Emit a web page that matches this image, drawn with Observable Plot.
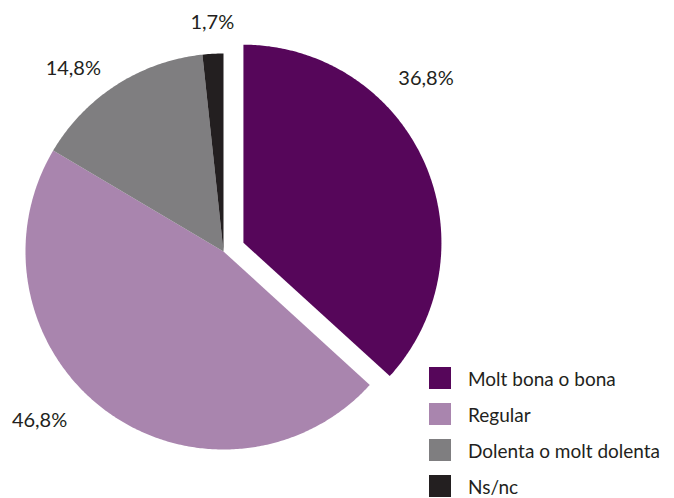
<!DOCTYPE html>
<html>
<head>
<meta charset="utf-8">
<script src="https://cdn.jsdelivr.net/npm/d3@7"></script>
<script src="https://cdn.jsdelivr.net/npm/@observablehq/plot@0.6"></script>
<style>
  body { margin: 0; background: #fff; font-family: Lato, "Open Sans", sans-serif; }
  #wrap { position: relative; width: 674px; height: 498px; }
  #legend { position: absolute; left: 429px; top: 360px; color: #231f20; font-size: 19px; }
  .item { display: flex; align-items: center; height: 36px; }
  .sw { width: 22px; height: 22px; margin-right: 17px; }
</style>
</head>
<body>
<div id="wrap"></div>
<script>
const categories = ["Molt bona o bona", "Regular", "Dolenta o molt dolenta", "Ns/nc"];
const values = [36.8, 46.8, 14.8, 1.7];
const labels = ["36,8%", "46,8%", "14,8%", "1,7%"];
const colors = ["#56065a", "#a985ae", "#7f7e80", "#231f20"];

// layout (not data)
const explode = [0.11, 0, 0, 0];
const labelPolar = [[49.5, 1.345], [227.4, 1.262], [320.6, 1.195], [357.2, 1.158]]; // degrees clockwise from top, radius in units

const arcs = d3.pie().sort(null).value(d => d)(values);
const slices = [];
arcs.forEach((a, i) => {
  const mid = (a.startAngle + a.endAngle) / 2;
  const ox = explode[i] * Math.sin(mid), oy = explode[i] * Math.cos(mid);
  const n = Math.max(2, Math.ceil((a.endAngle - a.startAngle) / 0.01));
  const pts = [{x: ox, y: oy}];
  for (let k = 0; k <= n; k++) {
    const t = a.startAngle + (a.endAngle - a.startAngle) * k / n;
    pts.push({x: ox + Math.sin(t), y: oy + Math.cos(t)});
  }
  pts.push({x: ox, y: oy});
  slices.push({pts, color: colors[i]});
});
const labelData = labels.map((l, i) => {
  const t = labelPolar[i][0] * Math.PI / 180, r = labelPolar[i][1];
  return {label: l, x: r * Math.sin(t), y: r * Math.cos(t)};
});

const chart = Plot.plot({
  width: 674, height: 498,
  marginLeft: 25, marginRight: 253, marginTop: 53, marginBottom: 49,
  x: {domain: [-1, 1], axis: null},
  y: {domain: [-1, 1], axis: null},
  style: {background: "transparent", fontFamily: "Lato, 'Open Sans', sans-serif"},
  marks: [
    ...slices.map(s => Plot.line(s.pts, {x: "x", y: "y", fill: s.color, stroke: "none", curve: "linear"})),
    Plot.text(labelData, {x: "x", y: "y", text: "label", fontSize: 20, fill: "#231f20", textAnchor: "middle"})
  ]
});
const wrap = document.getElementById("wrap");
wrap.appendChild(chart);
const legend = document.createElement("div");
legend.id = "legend";
categories.forEach((c, i) => {
  const it = document.createElement("div");
  it.className = "item";
  it.innerHTML = `<div class="sw" style="background:${colors[i]}"></div><span>${c}</span>`;
  legend.appendChild(it);
});
wrap.appendChild(legend);
</script>
</body>
</html>
